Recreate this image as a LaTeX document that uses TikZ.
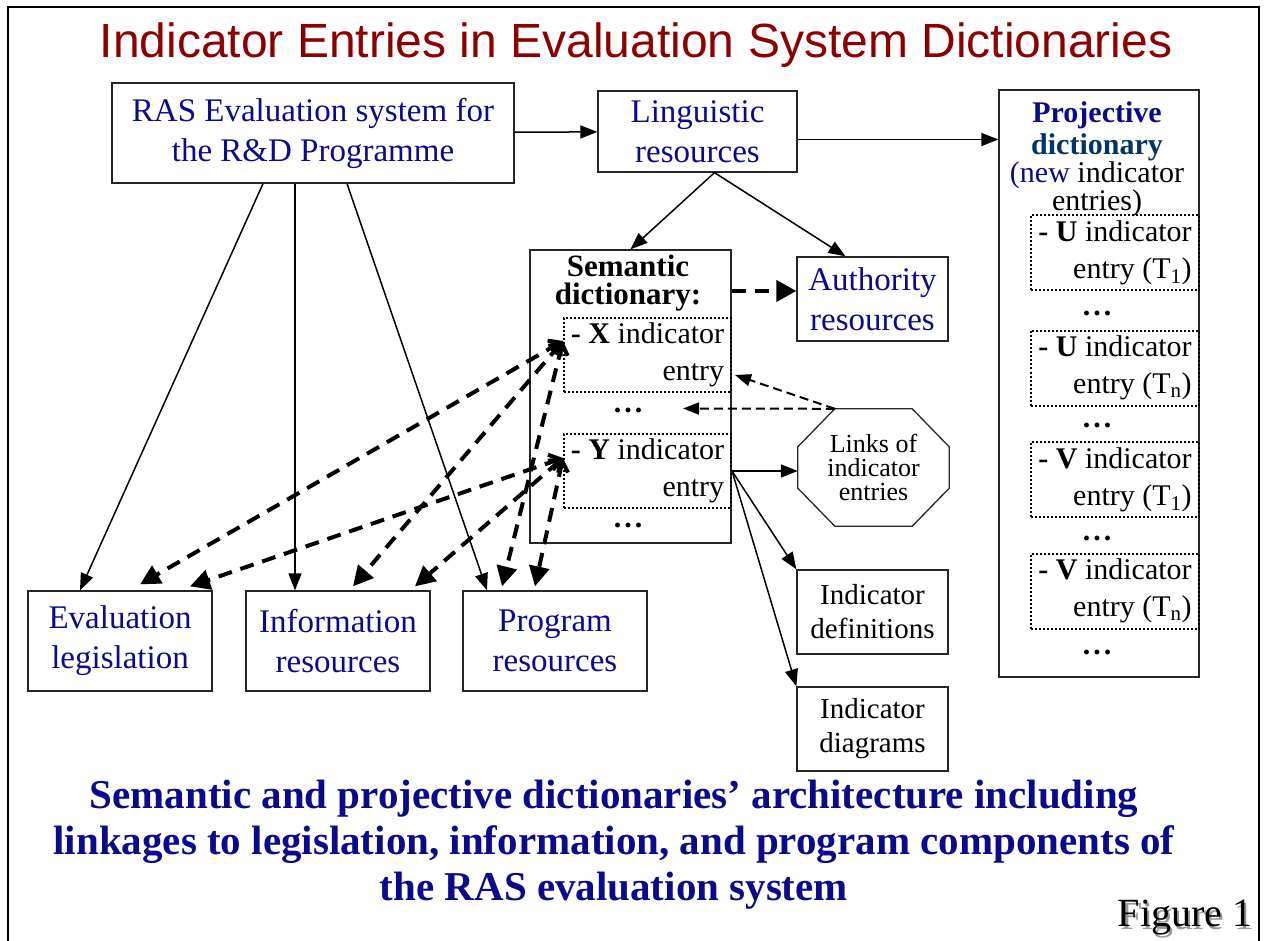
\documentclass[tikz,border=0pt]{standalone}
\usepackage{xcolor}
\usepackage{fontspec}
\setmainfont{Liberation Serif}
\newfontfamily\titlefont{Liberation Sans}
\usepackage{tikz}
\usetikzlibrary{arrows.meta}
\definecolor{rasblue}{RGB}{10,10,140}
\definecolor{dictteal}{RGB}{0,51,102}
\definecolor{titlered}{RGB}{140,0,0}
\newcommand{\entrydots}{.\hspace{3pt}.\hspace{3pt}.}

\begin{document}
\begin{tikzpicture}[x=1pt,y=-1pt,
  box/.style={draw=black!85,line width=1.3pt,inner sep=0pt,align=center},
  bluebox/.style={box,text=rasblue,font=\fontsize{33}{40}\selectfont},
  graybox/.style={box,font=\fontsize{29}{34}\selectfont,minimum width=151pt,minimum height=84pt},
  entry/.style={draw,dotted,line width=2pt,inner sep=0pt,align=right,font=\fontsize{30}{37}\selectfont,minimum width=168pt,minimum height=75pt},
  dots/.style={font=\bfseries\fontsize{30}{30}\selectfont},
  arr/.style={line width=1.5pt,-{Triangle[length=17pt,width=13pt]}},
  dasharr/.style={line width=4pt,dash pattern=on 14pt off 9pt,-{Triangle[length=20pt,width=21pt]}},
  dbl/.style={line width=4pt,dash pattern=on 14pt off 9pt,{Straight Barb[length=10pt,width=16pt]}-{Triangle[length=20pt,width=20pt]}},
  thindash/.style={line width=2pt,dash pattern=on 9pt off 5pt,-{Triangle[length=16pt,width=12pt]}}]
\useasboundingbox (0,0) rectangle (1266,941);
\draw[line width=2.5pt] (8,941) -- (8,7) -- (1259,7) -- (1259,941);

\node[text=titlered,font=\titlefont\fontsize{48}{56}\selectfont] (title) at (636,45) {Indicator Entries in Evaluation System Dictionaries};

% top row
\node[bluebox,minimum width=402pt,minimum height=100pt] (ras) at (313,133) {RAS Evaluation system for\\the R\&D Programme};
\node[bluebox,minimum width=199pt,minimum height=81pt] (ling) at (697.5,131.5) {Linguistic\\resources};

% projective dictionary
\node[box,minimum width=200pt,minimum height=587pt] (proj) at (1099,383.5) {};
\node[align=center,font=\fontsize{30}{28}\selectfont] (projhead) at (1097,159) {\textcolor{rasblue}{\textbf{Projective}}\\[4pt]\textcolor{dictteal}{\textbf{dictionary}}\\\textcolor{rasblue}{(new} indicator\\entries)};
\node[entry] (u1) at (1115,253) {\textbf{- U} indicator\\entry (T\textsubscript{1})};
\node[dots] (pd1) at (1097,313) {\entrydots};
\node[entry] (u2) at (1115,368) {\textbf{- U} indicator\\entry (T\textsubscript{n})};
\node[dots] (pd2) at (1097,425) {\entrydots};
\node[entry] (v1) at (1115,479.5) {\textbf{- V} indicator\\entry (T\textsubscript{1})};
\node[dots] (pd3) at (1097,538) {\entrydots};
\node[entry] (v2) at (1115,591) {\textbf{- V} indicator\\entry (T\textsubscript{n})};
\node[dots] (pd4) at (1097,652) {\entrydots};

% semantic dictionary
\node[box,minimum width=201pt,minimum height=293pt] (sem) at (630.5,396.5) {};
\node[align=center,font=\bfseries\fontsize{31}{28}\selectfont] (semhead) at (628,283) {Semantic\\dictionary:};
\node[entry,minimum width=167pt,minimum height=74pt] (xent) at (647.5,355) {\textbf{- X} indicator\\entry};
\node[dots] (xdots) at (628,410) {\entrydots};
\node[entry,minimum width=167pt,minimum height=74pt] (yent) at (647.5,471) {\textbf{- Y} indicator\\entry};
\node[dots] (ydots) at (628,525) {\entrydots};

\node[bluebox,minimum width=151pt,minimum height=84pt] (auth) at (872.5,299) {Authority\\resources};

% links octagon
\node[align=center,font=\fontsize{26}{24}\selectfont,minimum width=151pt,minimum height=117pt,inner sep=0pt] (links) at (873.5,467.5) {Links of\\indicator\\entries};
\draw[line width=1.3pt,black!85] ([xshift=37pt]links.north west) -- ([xshift=-37pt]links.north east) -- ([yshift=-38pt]links.north east) -- ([yshift=38pt]links.south east) -- ([xshift=-37pt]links.south east) -- ([xshift=37pt]links.south west) -- ([yshift=38pt]links.south west) -- ([yshift=-38pt]links.north west) -- cycle;

\node[graybox] (defs) at (872.5,612) {Indicator\\definitions};
\node[graybox] (diag) at (872.5,729) {Indicator\\diagrams};

% bottom row
\node[bluebox,minimum width=184pt,minimum height=100pt] (evl) at (120,641) {Evaluation\\legislation};
\node[bluebox,minimum width=184pt,minimum height=100pt] (info) at (338,641) {Information\\resources};
\node[bluebox,minimum width=184pt,minimum height=100pt] (prog) at (555,641) {Program\\resources};

\node[text=rasblue,font=\bfseries\fontsize{41}{46}\selectfont,align=center] (caption) at (614,845) {Semantic and projective dictionaries’ architecture including\\linkages to legislation, information, and program components of\\the RAS evaluation system};
\node[text=black!40,font=\fontsize{40}{40}\selectfont] (figshadow) at (1187.5,920.5) {Figure 1};
\node[font=\fontsize{40}{40}\selectfont] (fig) at (1185,918) {Figure 1};

% connectors
\draw[arr] (ras) -- (ling);
\coordinate (lp) at ([yshift=-8pt]ling.east);
\draw[arr] (lp) -- (lp -| proj.west);
\coordinate (lsplit) at ([xshift=17pt]ling.south);
\draw[arr] (lsplit) -- (sem.north);
\draw[arr] (lsplit) -- ([xshift=-27pt]auth.north);

\draw[arr] ([xshift=-50pt]ras.south) -- ([xshift=-40pt]evl.north);
\draw[arr] ([xshift=-18pt]ras.south) -- ([xshift=-43pt]info.north);
\draw[arr] ([xshift=34pt]ras.south) -- ([xshift=-68pt]prog.north);

\coordinate (sa) at ([yshift=8pt]auth.west);
\draw[dasharr] (sa -| sem.east) -- (sa);

\draw[arr] (yent.east) -- (yent.east -| links.west);
\draw[arr] (yent.east) -- (defs.north west);
\draw[arr] (yent.east) -- (diag.north west);

\coordinate (lk) at ([xshift=37pt]links.north west);
\coordinate (gap) at (683,408.5);
\draw[thindash] (lk) -- ([xshift=3pt,yshift=-20pt]xent.east);
\draw[thindash] (lk) -- (gap);

\coordinate (xl) at ([yshift=14pt]xent.west);
\coordinate (yl) at ([yshift=13pt]yent.west);
\draw[dbl] (xl) -- ([xshift=20pt,yshift=6pt]evl.north);
\draw[dbl] (yl) -- ([xshift=70pt,yshift=4pt]evl.north);
\draw[dbl] (xl) -- ([xshift=15pt,yshift=4pt]info.north);
\draw[dbl] (yl) -- ([xshift=77pt,yshift=4pt]info.north);
\draw[dbl] (xl) -- ([xshift=-53pt,yshift=4pt]prog.north);
\draw[dbl] (yl) -- ([xshift=-20pt,yshift=4pt]prog.north);
\end{tikzpicture}
\end{document}
